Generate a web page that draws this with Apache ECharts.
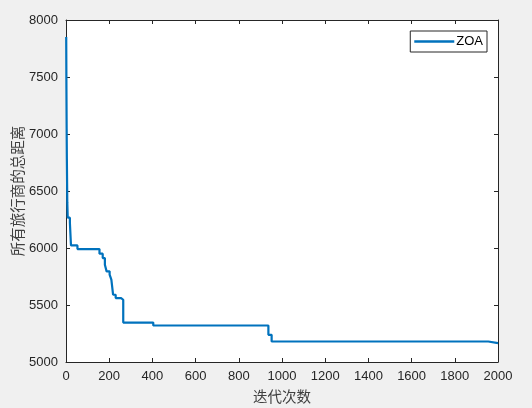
<!DOCTYPE html>
<html><head><meta charset="utf-8">
<script src="https://cdn.jsdelivr.net/npm/echarts@6/dist/echarts.min.js"></script>
<style>html,body{margin:0;padding:0;background:#f0f0f0;}#c{width:532px;height:408px;}</style>
</head><body><div id="c"></div>
<script>
// Iteration at which each new best value starts, and the value
const iterations = [1, 2, 3, 4, 6, 8, 18, 23, 53, 155, 170, 180, 188, 202, 210, 218, 230, 255, 265, 404, 937, 952, 1955, 2000];
const distances  = [7850, 7400, 7050, 6780, 6400, 6266, 6222, 6023, 5991, 5950, 5912, 5853, 5795, 5766, 5722, 5590, 5561, 5546, 5346, 5320, 5238, 5180, 5165, 5165];
const seriesName = 'ZOA';
const xTitle = '迭代次数';
const yTitle = '所有旅行商的总距离';

const data = iterations.map((x, i) => [x, distances[i]]);
const axisColor = '#262626';
const font = 'Liberation Sans, Arial, sans-serif';
const cjk = '"Noto Sans CJK SC", sans-serif';
const plain = v => String(v);

const chart = echarts.init(document.getElementById('c'));
chart.setOption({
  backgroundColor: '#f0f0f0',
  animation: false,
  grid: {left: 66, top: 20, right: 34, bottom: 46, show: true, backgroundColor: '#ffffff', borderWidth: 0,
         containLabel: false, outerBoundsMode: 'none'},
  legend: {
    data: [seriesName], right: 45, top: 31, orient: 'horizontal',
    icon: 'rect',
    backgroundColor: '#ffffff', borderColor: axisColor, borderWidth: 1, borderRadius: 0,
    padding: [4, 4, 4, 4], itemWidth: 40, itemHeight: 2.5, itemGap: 2,
    textStyle: {color: '#000', fontFamily: font, fontSize: 13, padding: [0, 0, 0, -3]}
  },
  xAxis: [{
    type: 'value', min: 0, max: 2000, interval: 200,
    name: xTitle, nameLocation: 'middle', nameGap: 27, nameMoveOverlap: false,
    nameTextStyle: {color: '#404040', fontFamily: cjk, fontSize: 14.5},
    axisLine: {show: true, onZero: false, lineStyle: {color: axisColor, width: 1}},
    axisTick: {show: true, inside: true, length: 4, lineStyle: {color: axisColor}},
    axisLabel: {color: axisColor, fontFamily: font, fontSize: 13, margin: 8, formatter: plain},
    splitLine: {show: false}
  }, {
    type: 'value', min: 0, max: 2000, interval: 200, position: 'top',
    axisLine: {show: true, onZero: false, lineStyle: {color: axisColor, width: 1}},
    axisTick: {show: true, inside: true, length: 4, lineStyle: {color: axisColor}},
    axisLabel: {show: false}, splitLine: {show: false}
  }],
  yAxis: [{
    type: 'value', min: 5000, max: 8000, interval: 500,
    name: yTitle, nameLocation: 'middle', nameGap: 41, nameRotate: 90, nameMoveOverlap: false,
    nameTextStyle: {color: '#404040', fontFamily: cjk, fontSize: 14.5},
    axisLine: {show: true, onZero: false, lineStyle: {color: axisColor, width: 1}},
    axisTick: {show: true, inside: true, length: 4, lineStyle: {color: axisColor}},
    axisLabel: {color: axisColor, fontFamily: font, fontSize: 13, margin: 8, formatter: plain},
    splitLine: {show: false}
  }, {
    type: 'value', min: 5000, max: 8000, interval: 500, position: 'right',
    axisLine: {show: true, onZero: false, lineStyle: {color: axisColor, width: 1}},
    axisTick: {show: true, inside: true, length: 4, lineStyle: {color: axisColor}},
    axisLabel: {show: false}, splitLine: {show: false}
  }],
  series: [{
    name: seriesName, type: 'line', data: data, step: 'end',
    showSymbol: false, symbol: 'none',
    lineStyle: {color: '#0072BD', width: 2.2},
    itemStyle: {color: '#0072BD'}
  }]
});
</script></body></html>
